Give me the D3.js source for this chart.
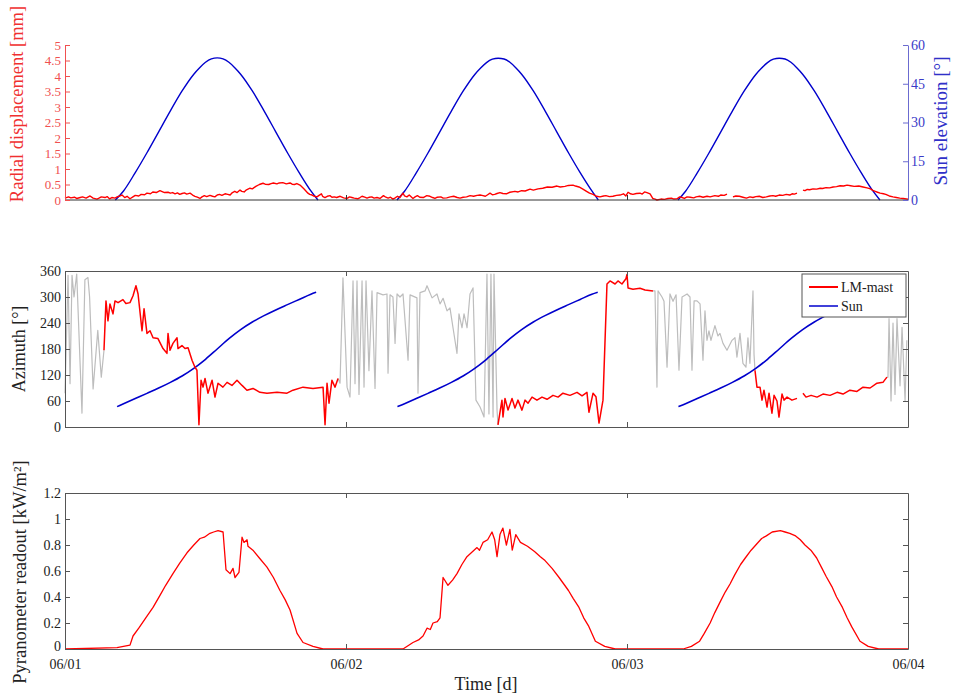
<!DOCTYPE html>
<html><head><meta charset="utf-8">
<script src="https://cdn.jsdelivr.net/npm/d3@7"></script>
<style>
body{margin:0;background:#fff;}
svg{font-family:"Liberation Serif","Times New Roman",serif;}
</style></head>
<body><svg id="c" width="953" height="696"></svg>
<script>
// ---------- DATA (time in hours from 06/01 00:00) ----------
const dateTicks = [0, 24, 48, 72];
const dateLabels = ["06/01", "06/02", "06/03", "06/04"];
const dispTicks = [0,0.5,1,1.5,2,2.5,3,3.5,4,4.5,5];
const elevTicks = [0,15,30,45,60];
const azTicks = [0,60,120,180,240,300,360];
const pyrTicks = [0,0.2,0.4,0.6,0.8,1,1.2];

// Radial displacement [mm] (segments separated by data gaps)
const dispSeg1 = [[0,0.06],[0.3,0.1],[0.5,0.07],[0.8,0.09],[1,0.05],[1.3,0.08],[1.5,0.1],[1.8,0.06],[2.14,0.13],[2.4,0.06],[2.73,0.03],[2.9,0.06],[3.1,0.1],[3.42,0.08],[3.6,0.11],[3.8,0.04],[4.0,0.08],[4.27,0.06],[4.45,0.1],[4.6,0.12],[4.87,0.16],[5.1,0.08],[5.3,0.12],[5.55,0.04],[5.8,0.1],[6.0,0.15],[6.3,0.13],[6.5,0.18],[6.8,0.17],[7.0,0.22],[7.3,0.2],[7.5,0.26],[7.8,0.24],[8.11,0.30],[8.3,0.27],[8.5,0.24],[8.8,0.25],[9.0,0.22],[9.2,0.24],[9.4,0.2],[9.6,0.23],[9.8,0.18],[10.0,0.21],[10.2,0.23],[10.4,0.19],[10.68,0.22],[10.9,0.16],[11.1,0.12],[11.3,0.09],[11.53,0.05],[11.7,0.1],[11.9,0.14],[12.1,0.11],[12.38,0.15],[12.6,0.12],[12.8,0.1],[13.0,0.16],[13.2,0.18],[13.4,0.15],[13.67,0.2],[13.9,0.18],[14.1,0.16],[14.3,0.24],[14.5,0.28],[14.7,0.24],[14.95,0.32],[15.1,0.28],[15.3,0.26],[15.5,0.33],[15.8,0.38],[16.0,0.36],[16.3,0.44],[16.6,0.5],[16.91,0.54],[17.1,0.51],[17.4,0.5],[17.6,0.53],[17.8,0.55],[18.1,0.52],[18.3,0.55],[18.6,0.56],[18.9,0.52],[19.22,0.55],[19.4,0.51],[19.6,0.5],[19.8,0.53],[20.07,0.48],[20.4,0.36],[20.75,0.22],[20.9,0.18],[21.1,0.16],[21.3,0.12],[21.52,0.10],[21.7,0.15],[21.9,0.2],[22.0,0.12],[22.2,0.08],[22.4,0.12],[22.63,0.14],[22.8,0.09],[23.0,0.1],[23.2,0.08],[23.5,0.12],[23.8,0.07],[24.09,0.05],[24.3,0.1],[24.5,0.08],[24.7,0.06],[25.0,0.04],[25.2,0.08],[25.37,0.12],[25.6,0.09],[25.8,0.06],[26.0,0.09],[26.2,0.1],[26.4,0.06],[26.65,0.08],[26.9,0.05],[27.2,0.14],[27.4,0.09],[27.6,0.06],[27.8,0.09],[28.01,0.03],[28.2,0.07],[28.4,0.12],[28.6,0.08],[28.87,0.22],[29.0,0.13],[29.2,0.1],[29.4,0.16],[29.72,0.05],[29.9,0.1],[30.1,0.14],[30.3,0.09],[30.6,0.08],[30.9,0.14],[31.17,0.12],[31.4,0.08],[31.6,0.05],[31.8,0.09],[32.1,0.1],[32.3,0.06],[32.6,0.07],[32.9,0.1],[33.2,0.12],[33.5,0.08],[33.74,0.06],[34.0,0.09],[34.3,0.1],[34.6,0.14],[34.9,0.12],[35.2,0.15],[35.45,0.16],[35.7,0.14],[35.9,0.12],[36.1,0.17],[36.3,0.22],[36.5,0.17],[36.7,0.18],[36.9,0.21],[37.15,0.24],[37.4,0.21],[37.7,0.2],[38.0,0.25],[38.43,0.28],[38.7,0.26],[39.0,0.3],[39.3,0.29],[39.72,0.35],[40.0,0.32],[40.4,0.36],[40.8,0.38],[41.2,0.42],[41.6,0.41],[42.02,0.45],[42.3,0.42],[42.7,0.44],[43.0,0.47],[43.39,0.48],[43.6,0.45],[43.9,0.42],[44.2,0.36],[44.58,0.27],[44.8,0.22],[45.1,0.18],[45.4,0.12],[45.69,0.10],[46.0,0.13],[46.2,0.14],[46.5,0.11],[46.8,0.12],[47.1,0.15],[47.4,0.16],[47.7,0.2],[47.9,0.13],[48.09,0.25],[48.3,0.2],[48.5,0.18],[48.8,0.21],[49.11,0.22],[49.3,0.19],[49.5,0.26],[49.7,0.24],[49.97,0.20],[50.2,0.05],[50.4,0.03],[50.56,0.0],[50.9,0.03],[51.2,0.02],[51.5,0.05],[51.8,0.06],[52.0,0.03],[52.27,0.04],[52.5,0.1],[52.7,0.08],[52.9,0.05],[53.13,0.1],[53.4,0.09],[53.7,0.07],[53.9,0.1],[54.2,0.12],[54.5,0.09],[54.83,0.12],[55.1,0.1],[55.5,0.14],[55.8,0.12],[56.0,0.16],[56.3,0.15],[56.54,0.19]];
const dispSeg2 = [[57.05,0.1],[57.3,0.13],[57.6,0.12],[57.9,0.09],[58.2,0.06],[58.5,0.1],[58.76,0.08],[59.0,0.11],[59.3,0.12],[59.6,0.08],[59.9,0.1],[60.2,0.13],[60.47,0.14],[60.7,0.12],[61.0,0.16],[61.3,0.15],[61.6,0.18],[61.9,0.16],[62.1,0.2],[62.3,0.19],[62.52,0.22]];
const dispSeg3 = [[63.03,0.32],[63.2,0.3],[63.4,0.34],[63.6,0.33],[63.89,0.36],[64.2,0.35],[64.5,0.38],[64.7,0.37],[65.0,0.4],[65.3,0.39],[65.6,0.42],[65.9,0.43],[66.2,0.46],[66.5,0.45],[66.8,0.48],[67.1,0.46],[67.4,0.44],[67.8,0.45],[68.16,0.42],[68.5,0.39],[68.8,0.36],[69.0,0.31],[69.2,0.28],[69.4,0.25],[69.62,0.22],[69.9,0.2],[70.1,0.18],[70.4,0.13],[70.72,0.1],[71.0,0.08],[71.3,0.06],[71.6,0.05],[72,0.03]];

// Sun elevation [deg]
const sunElevDay1 = [[4.3,0],[5,3.5],[6,10.6],[7,18.3],[8,26.4],[9,34.5],[10,42.2],[11,48.7],[11.5,51.2],[12,53.3],[12.5,54.6],[13,55],[13.5,54.6],[14,53.3],[14.5,51.2],[15,48.7],[16,42.2],[17,34.5],[18,26.4],[19,18.3],[20,10.6],[21,3.5],[21.6,0]];
const sunElevDay2 = [[28.35,0],[29,3.4],[30,10.5],[31,18.2],[32,26.3],[33,34.4],[34,42.1],[35,48.6],[35.5,51.1],[36,53.2],[36.5,54.5],[37,54.9],[37.5,54.6],[38,53.3],[38.5,51.2],[39,48.7],[40,42.2],[41,34.5],[42,26.4],[43,18.3],[44,10.6],[45,3.5],[45.55,0]];
const sunElevDay3 = [[52.35,0],[53,3.4],[54,10.5],[55,18.2],[56,26.3],[57,34.4],[58,42.1],[59,48.6],[59.5,51.1],[60,53.2],[60.5,54.5],[61,54.9],[61.5,54.6],[62,53.3],[62.5,51.2],[63,48.7],[64,42.2],[65,34.5],[66,26.4],[67,18.3],[68,10.6],[69,3.5],[69.6,0]];

// Sun azimuth [deg]
const sunAzDay1 = [[4.45,47],[5,53.6],[6,65.6],[7,77.6],[8,89.8],[9,103],[10,117.8],[11,135.4],[12,156.3],[13,180],[14,203.7],[15,224.6],[16,242.2],[17,257],[18,270.2],[19,282.4],[20,294.4],[21,306.4],[21.45,311]];
const sunAzDay2 = [[28.4,47],[29,53.6],[30,65.6],[31,77.6],[32,89.8],[33,103],[34,117.8],[35,135.4],[36,156.3],[37,180],[38,203.7],[39,224.6],[40,242.2],[41,257],[42,270.2],[43,282.4],[44,294.4],[45,306.4],[45.5,311]];
const sunAzDay3 = [[52.4,47],[53,53.6],[54,65.6],[55,77.6],[56,89.8],[57,103],[58,117.8],[59,135.4],[60,156.3],[61,180],[62,203.7],[63,224.6],[64,242.2],[65,257],[66,270.2],[67,282.4],[68,294.4],[69,306.4],[69.45,311]];

// LM-mast azimuth [deg]: valid (red) and unreliable night-time (grey) parts
const mastGrey1 = [[0,78],[0.26,350],[0.43,100],[0.6,350],[0.77,300],[1.0,353],[1.45,32],[1.7,340],[1.96,345],[2.1,300],[2.4,88],[2.8,223],[3.1,115],[3.33,177]];
const mastRed1 = [[3.33,177],[3.5,291],[3.67,245],[3.84,284],[4.1,261],[4.27,291],[4.53,287],[4.95,294],[5.2,285],[5.55,287],[5.81,303],[6.06,326],[6.24,307],[6.58,222],[6.75,273],[7.0,216],[7.26,222],[7.52,206],[7.94,204],[8.37,181],[8.71,170],[8.8,216],[8.97,177],[9.22,193],[9.57,206],[9.65,181],[9.99,188],[10.25,181],[10.51,183],[10.85,154],[11.1,138],[11.27,131],[11.44,5],[11.62,108],[11.79,92],[11.96,112],[12.21,78],[12.56,108],[12.81,69],[13.07,101],[13.49,92],[13.84,103],[14.26,96],[14.69,108],[15.12,96],[15.54,85],[16.06,89],[16.65,80],[17.25,78],[18.11,80],[18.96,78],[19.47,85],[20.33,92],[21.18,89],[22.04,92],[22.21,5],[22.38,101],[22.55,55],[22.8,108],[23.06,92],[23.32,112]];
const mastGrey2 = [[23.32,112],[23.49,101],[23.74,344],[24.09,92],[24.34,69],[24.6,337],[24.77,100],[24.94,337],[25.11,75],[25.37,337],[25.54,92],[25.71,337],[25.96,130],[26.22,314],[26.48,89],[26.65,310],[27.16,305],[27.5,307],[27.59,124],[27.76,305],[28.01,300],[28.19,193],[28.36,307],[28.61,300],[28.87,307],[29.3,154],[29.47,305],[30.06,298],[30.15,78],[30.32,310],[30.75,314],[30.92,326],[31.35,298],[31.77,307],[32.03,284],[32.29,297],[32.63,268],[32.88,275],[33.14,229],[33.48,170],[33.65,261],[33.91,229],[34.08,261],[34.34,229],[34.59,307],[34.85,321],[35.1,62],[35.45,46],[35.79,23],[36.04,353],[36.21,30],[36.38,353],[36.56,23],[36.64,353],[36.9,39],[36.98,5]];
const mastRed2 = [[36.98,5],[37.32,62],[37.41,23],[37.58,66],[37.84,39],[38.18,66],[38.43,44],[38.69,62],[39.03,39],[39.29,62],[39.55,55],[39.89,69],[40.31,62],[40.74,69],[41.17,64],[41.68,73],[42.11,69],[42.53,78],[43.13,73],[43.73,80],[44.16,72],[44.58,80],[44.75,34],[45.1,78],[45.35,70],[45.61,9],[45.95,62],[46.29,330],[46.55,337],[46.98,330],[47.23,337],[47.57,330],[47.91,342],[48.0,352],[48.09,321],[48.51,318],[49.11,320],[49.54,316],[50.22,314]];
const mastGrey3 = [[50.22,314],[50.39,314],[50.56,92],[50.65,314],[50.99,300],[51.16,290],[51.42,138],[51.67,307],[51.93,290],[52.19,305],[52.44,131],[52.7,300],[53.13,307],[53.38,300],[53.55,131],[53.73,291],[53.98,291],[54.24,284],[54.49,154],[54.66,268],[54.83,200],[55.0,222],[55.17,200],[55.51,234],[55.77,210],[55.94,216],[56.2,193],[56.54,177],[56.97,200],[57.22,206],[57.39,161],[57.65,216],[57.9,147],[58.16,138],[58.33,206],[58.5,147],[58.76,314],[58.85,167],[58.93,131]];
const mastRed3a = [[58.93,131],[59.1,92],[59.36,92],[59.53,62],[59.7,85],[59.96,46],[60.13,78],[60.38,32],[60.56,73],[60.81,60],[60.98,23],[61.24,76],[61.41,62],[61.67,69],[62.09,62],[62.52,66]];
const mastRed3b = [[63.03,78],[63.29,69],[63.72,73],[64.23,69],[64.74,76],[65.34,73],[65.94,80],[66.45,76],[67.04,85],[67.64,82],[68.16,92],[68.76,90],[69.35,101],[69.86,103],[70.2,115]];
const mastGrey4 = [[70.2,115],[70.29,115],[70.38,250],[70.55,60],[70.72,240],[70.89,75],[71.06,250],[71.32,95],[71.49,230],[71.75,60],[71.9,200]];

// Pyranometer readout [kW/m2]
const pyr = [[0,0],[4.44,0.01],[5.55,0.03],[5.81,0.10],[6.3,0.16],[6.9,0.24],[7.52,0.32],[8.1,0.41],[8.6,0.49],[9.22,0.58],[9.8,0.66],[10.42,0.74],[11.0,0.8],[11.53,0.85],[11.9,0.86],[12.38,0.89],[12.7,0.9],[13.07,0.91],[13.5,0.90],[13.75,0.61],[14.1,0.58],[14.35,0.62],[14.52,0.55],[14.86,0.59],[15.12,0.86],[15.29,0.82],[15.55,0.84],[15.63,0.79],[16.05,0.76],[16.6,0.7],[17.25,0.63],[17.8,0.55],[18.36,0.45],[18.8,0.38],[19.22,0.30],[19.82,0.12],[20.33,0.05],[21.18,0.02],[22.04,0],[28.87,0],[29.72,0.05],[30.2,0.07],[30.58,0.10],[30.92,0.16],[31.2,0.15],[31.43,0.20],[31.8,0.21],[32.03,0.24],[32.29,0.55],[32.71,0.49],[33.1,0.53],[33.48,0.58],[33.9,0.65],[34.33,0.71],[34.7,0.74],[35.19,0.78],[35.4,0.76],[35.7,0.82],[36.1,0.84],[36.47,0.90],[36.7,0.84],[36.9,0.71],[37.15,0.88],[37.4,0.93],[37.7,0.80],[38.0,0.92],[38.2,0.76],[38.5,0.88],[38.9,0.82],[39.5,0.79],[40.1,0.75],[40.6,0.71],[41.0,0.68],[41.6,0.62],[42.2,0.55],[42.6,0.5],[43.0,0.45],[43.4,0.39],[43.9,0.32],[44.3,0.24],[44.7,0.18],[45.3,0.06],[46.1,0.02],[47.0,0],[52.8,0],[53.5,0.02],[54.2,0.06],[54.6,0.12],[55.1,0.2],[55.5,0.28],[56.0,0.37],[56.4,0.44],[56.8,0.5],[57.2,0.57],[57.7,0.65],[58.1,0.7],[58.6,0.76],[59.0,0.8],[59.5,0.85],[59.9,0.87],[60.4,0.9],[61.1,0.91],[61.5,0.9],[61.9,0.89],[62.4,0.87],[62.8,0.84],[63.2,0.8],[63.7,0.76],[64.2,0.7],[64.6,0.63],[65.0,0.56],[65.5,0.48],[65.9,0.4],[66.4,0.32],[66.8,0.24],[67.2,0.17],[67.9,0.06],[68.6,0.02],[69.5,0],[72,0]];

// ---------- DRAWING ----------
const svg = d3.select("#c");
const FONT = '"Liberation Serif","Times New Roman",serif';
const L = 65, R = 908;
const x = d3.scaleLinear().domain([0,72]).range([L,R]);

const RED = "#ff0000", BLUE = "#0000cc", GREY = "#bdbdbd", AX = "#555";
const RED_AX = "#f05050", BLUE_AX = "#6b6bd0";

function path(g, data, yScale, color, w, curve){
  const ln = d3.line().x(d=>x(d[0])).y(d=>yScale(d[1])).curve(curve || d3.curveLinear);
  g.append("path").datum(data).attr("d", ln)
   .attr("fill","none").attr("stroke",color).attr("stroke-width",w).attr("stroke-linejoin","round");
}
function styleAxis(g, color, size){
  g.selectAll("path.domain").attr("stroke", color);
  g.selectAll(".tick line").attr("stroke", color);
  g.selectAll(".tick text").attr("fill", color).style("font-family", FONT).style("font-size", size+"px");
}
const fmt = d => d3.format("~g")(d);

// ===== Panel 1 =====
const yDisp = d3.scaleLinear().domain([0,5]).range([200,45]);
const yElev = d3.scaleLinear().domain([0,60]).range([200,45]);
const p1 = svg.append("g");
[sunElevDay1, sunElevDay2, sunElevDay3].forEach(s => path(p1, s, yElev, BLUE, 1.4, d3.curveMonotoneX));
[dispSeg1, dispSeg2, dispSeg3].forEach(s => path(p1, s, yDisp, RED, 1.4));
const xb1 = p1.append("g").attr("transform","translate(0,200)")
  .call(d3.axisBottom(x).tickValues([24,48]).tickSize(-5).tickFormat(""));
styleAxis(xb1, "#333", 13);
xb1.select("path.domain").attr("d", `M${L},0H${R}`);
const ya1 = p1.append("g").attr("transform",`translate(${L},0)`)
  .call(d3.axisLeft(yDisp).tickValues(dispTicks).tickSize(-5).tickSizeOuter(0).tickPadding(4).tickFormat(fmt));
styleAxis(ya1, RED_AX, 13);
const ye1 = p1.append("g").attr("transform",`translate(${R},0)`)
  .call(d3.axisRight(yElev).tickValues(elevTicks).tickSize(-5).tickSizeOuter(0).tickPadding(3).tickFormat(fmt));
styleAxis(ye1, BLUE_AX, 14);
ye1.selectAll(".tick text").attr("fill", "#3a3ac8");
svg.append("text").attr("transform","translate(23,104) rotate(-90)").attr("text-anchor","middle")
  .style("font-family",FONT).style("font-size","18.5px").attr("fill","#f03030").text("Radial displacement [mm]");
svg.append("text").attr("transform","translate(947,121) rotate(-90)").attr("text-anchor","middle")
  .style("font-family",FONT).style("font-size","19px").attr("fill","#3030c8").text("Sun elevation [°]");

// ===== Panel 2 =====
const yAz = d3.scaleLinear().domain([0,360]).range([427,271]);
const p2 = svg.append("g");
[mastGrey1, mastGrey2, mastGrey3, mastGrey4].forEach(s => path(p2, s, yAz, GREY, 1.2));
[sunAzDay1, sunAzDay2, sunAzDay3].forEach(s => path(p2, s, yAz, BLUE, 1.6, d3.curveMonotoneX));
[mastRed1, mastRed2, mastRed3a, mastRed3b].forEach(s => path(p2, s, yAz, RED, 1.5));
function boxAxes(g, yScale, yTicks, yTop, yBot, labelFmt){
  const ax = g.append("g").attr("transform",`translate(${L},0)`)
    .call(d3.axisLeft(yScale).tickValues(yTicks).tickSize(-5).tickSizeOuter(0).tickPadding(4).tickFormat(labelFmt));
  styleAxis(ax, AX, 14); ax.selectAll(".tick text").attr("fill","#222");
  const ax2 = g.append("g").attr("transform",`translate(${R},0)`)
    .call(d3.axisRight(yScale).tickValues(yTicks).tickSize(-5).tickSizeOuter(0).tickFormat(""));
  styleAxis(ax2, AX, 14);
  const bx = g.append("g").attr("transform",`translate(0,${yBot})`)
    .call(d3.axisBottom(x).tickValues([24,48]).tickSize(-5).tickSizeOuter(0).tickFormat(""));
  styleAxis(bx, AX, 14);
  const tx = g.append("g").attr("transform",`translate(0,${yTop})`)
    .call(d3.axisTop(x).tickValues([24,48]).tickSize(-5).tickSizeOuter(0).tickFormat(""));
  styleAxis(tx, AX, 14);
  return ax;
}
boxAxes(p2, yAz, azTicks, 271, 427, fmt);
svg.append("text").attr("transform","translate(25,349) rotate(-90)").attr("text-anchor","middle")
  .style("font-family",FONT).style("font-size","18px").attr("fill","#222").text("Azimuth [°]");
// legend
const lg = p2.append("g").attr("transform","translate(802,274)");
lg.append("rect").attr("width",104).attr("height",43).attr("fill","#fff").attr("stroke","#555").attr("stroke-width",1);
lg.append("line").attr("x1",7).attr("x2",36).attr("y1",13).attr("y2",13).attr("stroke",RED).attr("stroke-width",2);
lg.append("line").attr("x1",7).attr("x2",36).attr("y1",32).attr("y2",32).attr("stroke",BLUE).attr("stroke-width",1.5);
lg.append("text").attr("x",39).attr("y",18).style("font-family",FONT).style("font-size","14px").attr("fill","#222").text("LM-mast");
lg.append("text").attr("x",39).attr("y",37).style("font-family",FONT).style("font-size","14px").attr("fill","#222").text("Sun");

// ===== Panel 3 =====
const yPyr = d3.scaleLinear().domain([0,1.2]).range([649,493]);
const p3 = svg.append("g");
path(p3, pyr, yPyr, RED, 1.3);
const pyAx = boxAxes(p3, yPyr, pyrTicks, 493, 649, fmt);
// nudge the bottom "0" label slightly up so it does not collide with the date label
pyAx.selectAll(".tick text").filter(d => d === 0).attr("dy", "0.1em");
const xl = p3.append("g").attr("transform","translate(0,649)")
  .call(d3.axisBottom(x).tickValues(dateTicks).tickSize(0).tickPadding(10).tickFormat((d,i)=>dateLabels[i]));
xl.select("path.domain").remove();
xl.selectAll(".tick text").style("font-family",FONT).style("font-size","14px").attr("fill","#222");
svg.append("text").attr("x",486).attr("y",690).attr("text-anchor","middle")
  .style("font-family",FONT).style("font-size","18px").attr("fill","#222").text("Time [d]");
svg.append("text").attr("transform","translate(26,572) rotate(-90)").attr("text-anchor","middle")
  .style("font-family",FONT).style("font-size","18.5px").attr("fill","#222").text("Pyranometer readout [kW/m²]");
</script></body></html>
